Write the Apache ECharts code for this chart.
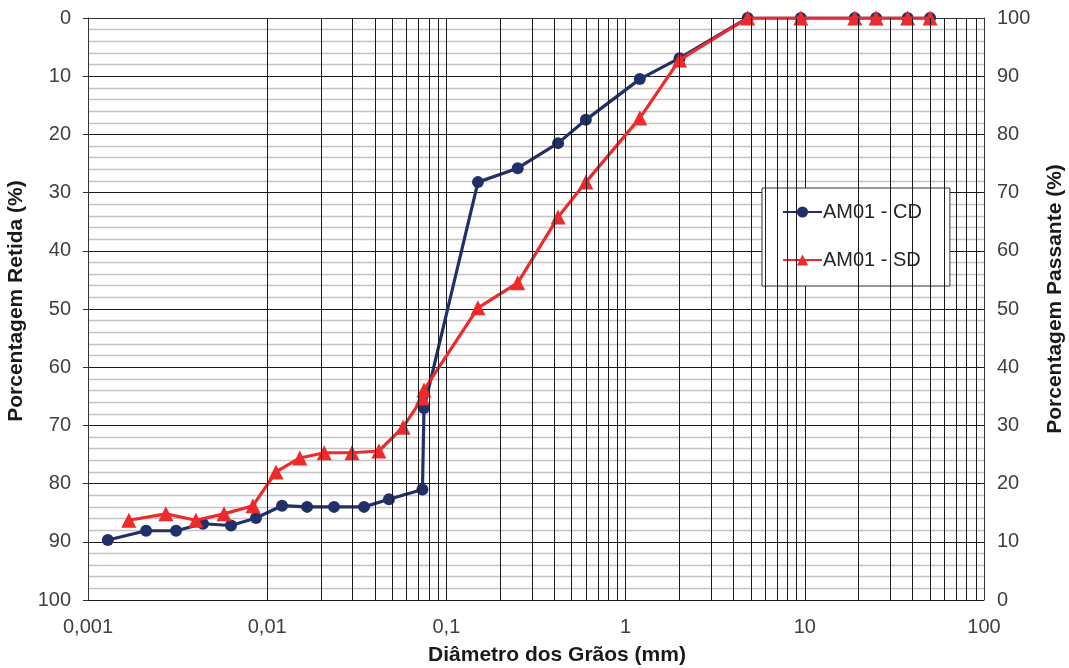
<!DOCTYPE html>
<html>
<head>
<meta charset="utf-8">
<script src="https://cdn.jsdelivr.net/npm/echarts@6/dist/echarts.min.js"></script>
<style>html,body{margin:0;padding:0;background:#fff}#c{width:1069px;height:668px}</style>
</head>
<body>
<div id="c"></div>
<script>
// Data
const diamCD = [0.00129,0.00211,0.0031,0.00438,0.00628,0.00866,0.0121,0.0167,0.0236,0.0347,0.0478,0.0735,0.075,0.15,0.25,0.42,0.6,1.2,2.0,4.8,9.5,19,25,37.5,50];
const retidaCD = [89.7,88.1,88.1,86.9,87.2,85.9,83.8,84.0,84.0,84.0,82.7,81.0,67.0,28.2,25.8,21.5,17.5,10.5,6.9,0,0,0,0,0,0];
const diamSD = [0.00169,0.00272,0.0040,0.00574,0.00833,0.0112,0.0152,0.0208,0.0297,0.042,0.0573,0.0735,0.075,0.15,0.25,0.42,0.6,1.2,2.0,4.8,9.5,19,25,37.5,50];
const passanteSD = [13.7,14.8,13.7,14.8,16.2,22.0,24.4,25.3,25.3,25.6,29.7,34.7,36.1,50.2,54.5,65.8,71.8,82.8,92.8,100,100,100,100,100,100];
const xTickLabels = ['0,001','0,01','0,1','1','10','100'];
const decades = [0.001,0.01,0.1,1,10];
const minorMultipliers = [2,3,4,5,6,7,8,9];

const minorVals = [];
decades.forEach(d => minorMultipliers.forEach(m => minorVals.push(d*m)));

const FONT = '"Liberation Sans", Arial, sans-serif';
const chart = echarts.init(document.getElementById('c'));
chart.setOption({
  animation: false,
  backgroundColor: '#fff',
  grid: {left: 88, right: 85, top: 18, bottom: 68, containLabel: false, outerBoundsMode: 'none'},
  legend: {
    left: 762, top: 188, orient: 'vertical',
    padding: [14, 28, 16, 20],
    itemWidth: 39, itemHeight: 14, itemGap: 28,
    backgroundColor: '#fff', borderColor: '#333', borderWidth: 1,
    textStyle: {fontFamily: FONT, fontSize: 20, color: '#262626', padding: [0,0,0,-4]},
    data: ['AM01 - CD', 'AM01 - SD']
  },
  xAxis: {
    type: 'log', logBase: 10, min: 0.001, max: 100,
    name: 'Diâmetro dos Grãos (mm)', nameLocation: 'middle', nameGap: 45,
    nameTextStyle: {fontFamily: FONT, fontSize: 21, fontWeight: 'bold', color: '#1a1a1a', padding: [0,0,0,42]},
    axisLine: {show: true, lineStyle: {color: '#333', width: 1}},
    axisTick: {show: false},
    axisLabel: {fontFamily: FONT, fontSize: 20, color: '#404040', margin: 17,
      formatter: v => xTickLabels[Math.round(Math.log10(v)) + 3]},
    splitLine: {show: true, lineStyle: {color: '#1a1a1a', width: 1}}
  },
  yAxis: [{
    type: 'value', min: 0, max: 100, interval: 10, inverse: true, position: 'left',
    name: 'Porcentagem Retida (%)', nameLocation: 'middle', nameGap: 57, nameRotate: 90,
    nameTextStyle: {fontFamily: FONT, fontSize: 21, fontWeight: 'bold', color: '#1a1a1a', padding: [0,0,0,16]},
    axisLine: {show: true, lineStyle: {color: '#333', width: 1}},
    axisTick: {show: true, length: 5, lineStyle: {color: '#333'}},
    axisLabel: {fontFamily: FONT, fontSize: 20, color: '#404040', margin: 17},
    splitLine: {show: true, lineStyle: {color: '#1a1a1a', width: 1}},
    minorTick: {show: false, splitNumber: 5},
    minorSplitLine: {show: true, lineStyle: {color: '#c4c4c4', width: 1.3}}
  }, {
    type: 'value', min: 0, max: 100, interval: 10, position: 'right',
    name: 'Porcentagem Passante (%)', nameLocation: 'middle', nameGap: 61, nameRotate: 90,
    nameTextStyle: {fontFamily: FONT, fontSize: 21, fontWeight: 'bold', color: '#1a1a1a', padding: [0,0,0,20]},
    axisLine: {show: true, lineStyle: {color: '#333', width: 1}},
    axisTick: {show: false},
    axisLabel: {fontFamily: FONT, fontSize: 20, color: '#404040', margin: 13},
    splitLine: {show: false}
  }],
  series: [{
    type: 'line', name: 'grid', data: [], z: 1, silent: true,
    markLine: {
      silent: true, symbol: ['none','none'], label: {show: false}, animation: false,
      lineStyle: {color: '#1a1a1a', width: 1, type: 'solid'},
      emphasis: {disabled: true},
      data: minorVals.map(v => ({xAxis: v}))
    }
  }, {
    type: 'line', name: 'AM01 - CD', yAxisIndex: 0, z: 3,
    data: diamCD.map((d, i) => [d, retidaCD[i]]),
    symbol: 'circle', symbolSize: 12,
    lineStyle: {color: '#22306a', width: 3.2},
    itemStyle: {color: '#22306a'}
  }, {
    type: 'line', name: 'AM01 - SD', yAxisIndex: 1, z: 4,
    data: diamSD.map((d, i) => [d, passanteSD[i]]),
    symbol: 'triangle', symbolSize: 15,
    lineStyle: {color: '#ee2a2d', width: 3.2},
    itemStyle: {color: '#ee2a2d'}
  }]
});
</script>
</body>
</html>
